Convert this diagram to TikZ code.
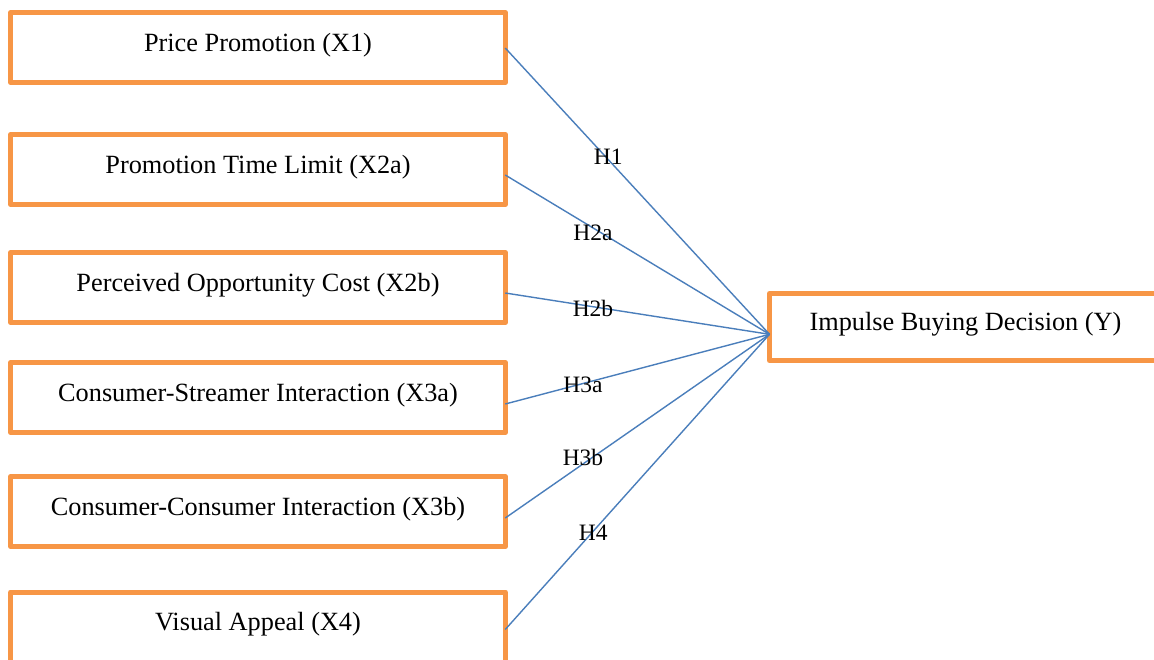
\documentclass[tikz,border=0pt]{standalone}
\usepackage{fontspec}
\setmainfont{Liberation Serif}
\usepackage{tikz}
\usetikzlibrary{positioning,calc}

\definecolor{boxorange}{HTML}{F79646}
\definecolor{linkblue}{HTML}{4A7EBB}

\begin{document}
\begin{tikzpicture}[
        x=1pt, y=-1pt,
        varbox/.style={rectangle, draw=boxorange, line width=5pt, line join=round, fill=white, minimum width=494.5pt, minimum height=70pt, inner sep=0pt, outer sep=0pt, text height=18pt, text depth=11pt, align=center, font=\fontsize{26.3}{31}\selectfont},
        outbox/.style={varbox, minimum width=392pt, minimum height=67pt},
        hyplabel/.style={anchor=base, inner sep=0pt, font=\fontsize{23.5}{28}\selectfont},
        path/.style={draw=linkblue, line width=1.4pt}
        ]

        \path[use as bounding box, fill=white] (0,0) rectangle (1154,659);

        % Independent variables
        \node[varbox] (x1) at (258, 47.5) {Price Promotion (X1)};
        \node[varbox] (x2a) at (258, 169.5) {Promotion Time Limit (X2a)};
        \node[varbox] (x2b) at (258, 287.5) {Perceived Opportunity Cost (X2b)};
        \node[varbox] (x3a) at (258, 397.5) {Consumer-Streamer Interaction (X3a)};
        \node[varbox] (x3b) at (258, 511.5) {Consumer-Consumer Interaction (X3b)};
        \node[varbox] (x4) at (258, 627) {Visual Appeal (X4)};

        % Dependent variable
        \node[outbox] (y) at (965.5, 327) {Impulse Buying Decision (Y)};

        % Paths
        \coordinate (hub) at ([yshift=-7.3pt]y.west);
        \draw[path] ([yshift=-0.5pt]x1.east) -- (hub);
        \draw[path] ([yshift=-5.5pt]x2a.east) -- (hub);
        \draw[path] ([yshift=-5.5pt]x2b.east) -- (hub);
        \draw[path] ([yshift=-6.5pt]x3a.east) -- (hub);
        \draw[path] ([yshift=-6.5pt]x3b.east) -- (hub);
        \draw[path] ([yshift=-2.5pt]x4.east) -- (hub);

        % Hypotheses
        \node[hyplabel] (h1) at (608.3, 164) {H1};
        \node[hyplabel] (h2a) at (593, 240) {H2a};
        \node[hyplabel] (h2b) at (593, 316) {H2b};
        \node[hyplabel] (h3a) at (583, 392) {H3a};
        \node[hyplabel] (h3b) at (583, 465) {H3b};
        \node[hyplabel] (h4) at (593.3, 540.7) {H4};

    \end{tikzpicture}
\end{document}
